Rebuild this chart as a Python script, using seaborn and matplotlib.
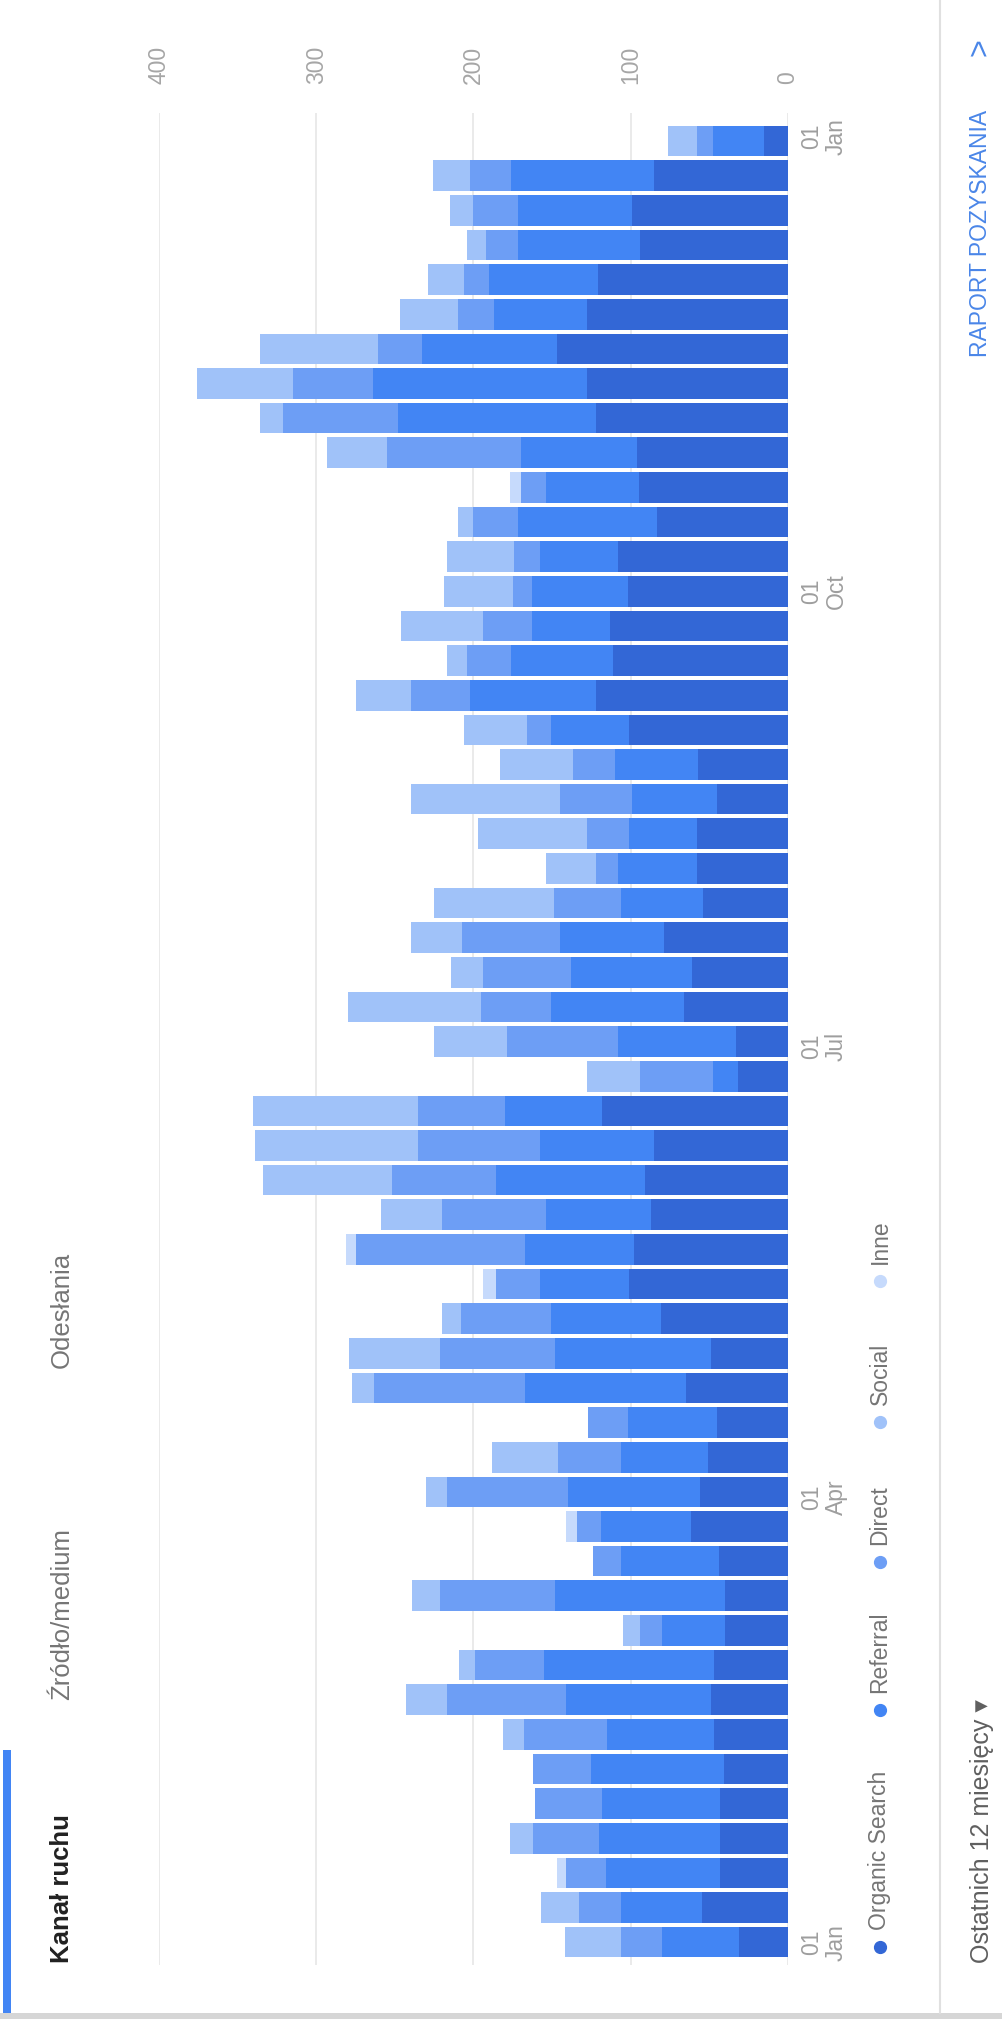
import pandas as pd
import matplotlib
matplotlib.use("Agg")
import matplotlib.pyplot as plt
from matplotlib.lines import Line2D
from matplotlib.patches import Rectangle
import seaborn as sns

# weekly sessions per channel, oldest week first
weeks = pd.date_range("2017-01-01", periods=53, freq="7D")
organic = [31, 55, 43, 43, 43, 41, 47, 49, 47, 40, 40, 44, 62, 56, 51, 45, 65, 49, 81, 101,
           98, 87, 91, 85, 118, 32, 33, 66, 61, 79, 54, 58, 58, 45, 57, 101, 122, 111, 113, 102,
           108, 83, 95, 96, 122, 128, 147, 128, 121, 94, 99, 85, 15]
referral = [49, 51, 73, 77, 75, 84, 68, 92, 108, 40, 108, 62, 57, 84, 55, 57, 102, 99, 70, 57,
            69, 67, 95, 73, 62, 16, 75, 85, 77, 66, 52, 50, 43, 54, 53, 50, 80, 65, 50, 61,
            50, 89, 59, 74, 126, 136, 86, 59, 69, 78, 73, 91, 33]
direct = [26, 27, 25, 42, 43, 37, 53, 76, 44, 14, 73, 18, 15, 77, 40, 25, 96, 73, 57, 28,
          108, 66, 66, 77, 55, 46, 71, 44, 56, 62, 43, 14, 27, 46, 27, 15, 38, 28, 31, 12,
          16, 28, 16, 85, 73, 51, 28, 23, 16, 20, 28, 26, 10]
social = [36, 24, 0, 15, 0, 0, 13, 26, 10, 11, 18, 0, 0, 13, 42, 0, 14, 58, 12, 0,
          0, 39, 82, 104, 105, 34, 46, 85, 20, 33, 76, 32, 69, 95, 46, 40, 35, 13, 52, 44,
          43, 10, 0, 38, 15, 61, 75, 37, 23, 12, 15, 24, 18]
inne = [0, 0, 6, 0, 0, 0, 0, 0, 0, 0, 0, 0, 7, 0, 0, 0, 0, 0, 0, 8,
        6, 0, 0, 0, 0, 0, 0, 0, 0, 0, 0, 0, 0, 0, 0, 0, 0, 0, 0, 0,
        0, 0, 7, 0, 0, 0, 0, 0, 0, 0, 0, 0, 0]

channels = ["Organic Search", "Referral", "Direct", "Social", "Inne"]
colors = ["#3367d6", "#4285f4", "#6d9ef5", "#a0c2f9", "#c6dafc"]
tick_dates = pd.to_datetime(["2017-01-01", "2017-04-01", "2017-07-01", "2017-10-01", "2018-01-01"])
value_ticks = [0, 100, 200, 300, 400]
tabs = ["Kanał ruchu", "Źródło/medium", "Odesłania"]

df = pd.DataFrame({"week": weeks, "Organic Search": organic, "Referral": referral,
                   "Direct": direct, "Social": social, "Inne": inne})
df["pos"] = (df["week"] - weeks[0]).dt.days / 7
cum = df[channels].cumsum(axis=1)

sns.set_theme(style="white")
plt.rcParams["font.family"] = ["Liberation Sans", "DejaVu Sans"]

W, H = 1003, 2019
def px(x, y):
    return x / W, 1 - y / H

fig = plt.figure(figsize=(W / 100, H / 100), dpi=100)
fig.patch.set_facecolor("white")
ax = fig.add_axes([159 / W, 54 / H, 629 / W, 1852 / H])

# the chart is turned a quarter turn: weeks run bottom->top, values grow to the left
for ch, col in reversed(list(zip(channels, colors))):
    sns.barplot(x=cum[ch], y=df["pos"], orient="y", native_scale=True, color=col,
                saturation=1, width=0.886, linewidth=0, edgecolor="none",
                errorbar=None, ax=ax)

ax.set(xlabel="", ylabel="")
ax.set_xlim(400, 0)
ax.set_ylim(-0.66, 52.81)
for s in ax.spines.values():
    s.set_visible(False)
ax.grid(axis="x", color="#e6e6e6", lw=1.2)
ax.grid(axis="y", visible=False)
ax.set_axisbelow(True)

ax.set_xticks(value_ticks)
ax.set_xticklabels([str(v) for v in value_ticks])
ax.xaxis.tick_top()
ax.tick_params(axis="x", length=0, pad=21, labelsize=16.5, labelcolor="#a6a6a6", labelrotation=90)

tick_pos = [(d - weeks[0]).days / 7 for d in tick_dates]
ax.yaxis.tick_right()
ax.set_yticks(tick_pos)
ax.set_yticklabels([d.strftime("%d\n%b") for d in tick_dates])
ax.tick_params(axis="y", length=0, pad=8.5, labelsize=16.5, labelcolor="#9e9e9e", labelrotation=90)
for lbl in ax.get_yticklabels():
    lbl.set_va("center")
    lbl.set_ha("left")
    lbl.set_multialignment("center")
    lbl.set_linespacing(1.1)

# tabs on the left edge
fig.add_artist(Rectangle(px(3, 2013), 8 / W, (2013 - 1750) / H, color="#4285f4", lw=0))
tab_starts = [1963, 1700, 1368]
for name, y0, i in zip(tabs, tab_starts, range(3)):
    fig.text(*px(62, y0), name, rotation=90, ha="center", va="bottom", fontsize=18.5,
             fontweight="bold" if i == 0 else "normal",
             color="#212121" if i == 0 else "#757575")

# legend
legend_dots = [1947, 1710, 1562, 1422, 1281]
for name, col, yd in zip(channels, colors, legend_dots):
    fig.add_artist(Line2D([880 / W], [1 - yd / H], marker="o", ms=8.5, color=col, lw=0,
                          transform=fig.transFigure))
    fig.text(*px(880, yd - 17), name, rotation=90, ha="center", va="bottom",
             fontsize=16.5, color="#757575")

# footer strip on the right
fig.add_artist(Line2D([940 / W, 940 / W], [1 - 2013 / H, 1], color="#e0e0e0", lw=1.5,
                      transform=fig.transFigure))
fig.text(*px(982, 1963), "Ostatnich 12 miesięcy ▾", rotation=90, ha="center", va="bottom",
         fontsize=18, color="#5f5f5f")
fig.text(*px(981, 357), "RAPORT POZYSKANIA", rotation=90, ha="center", va="bottom",
         fontsize=16.5, color="#4a86e8")
fig.text(*px(981, 47), ">", rotation=90, ha="center", va="center",
         fontsize=22, color="#4a86e8")

# card edge at the bottom
fig.add_artist(Rectangle((0, 0), 1, 6 / H, color="#d6d6d6", lw=0))

fig.savefig("out.png", dpi=100)
